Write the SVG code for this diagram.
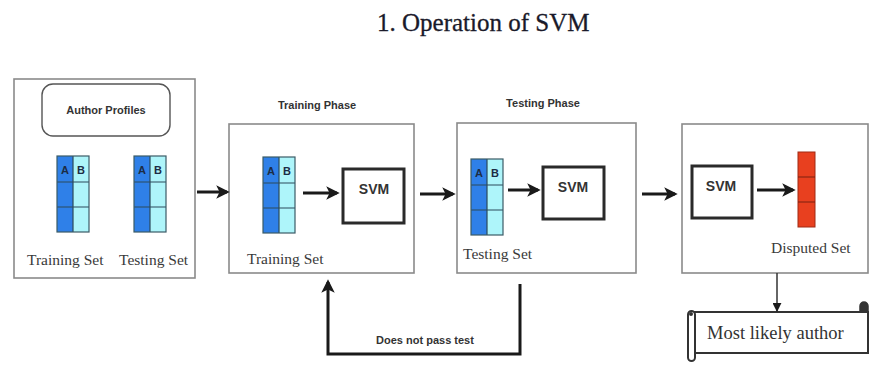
<svg xmlns="http://www.w3.org/2000/svg" width="874" height="367" viewBox="0 0 874 367">
<style>
.frame{fill:#fff;stroke:#8a8a8a;stroke-width:1.6}
.svm{fill:#fff;stroke:#2a2a2a;stroke-width:3}
.bold{font-family:"Liberation Sans",Arial,sans-serif;font-weight:bold;font-size:11px;fill:#333}
.lbl{font-family:"Liberation Serif","Times New Roman",serif;font-size:15.5px;fill:#3a3a3a}
.svmt{font-family:"Liberation Sans",Arial,sans-serif;font-weight:bold;font-size:14px;fill:#333;text-anchor:middle}
.ab{font-family:"Liberation Sans",Arial,sans-serif;font-weight:bold;font-size:11px;fill:#1c2c44;text-anchor:middle}
.conn{fill:none;stroke:#1a1a1a;stroke-width:3}
</style>
<defs>
<marker id="ah" viewBox="0 0 10 10" refX="8" refY="5" markerWidth="4.5" markerHeight="4.5" orient="auto" markerUnits="strokeWidth">
<path d="M0,0 L10,5 L0,10 L2.5,5 z" fill="#1a1a1a"/>
</marker>
<marker id="ahd" viewBox="0 0 10 10" refX="9" refY="5" markerWidth="6" markerHeight="6" orient="auto" markerUnits="strokeWidth">
<path d="M0,0 L10,5 L0,10 z" fill="#1a1a1a"/>
</marker>
<g id="tbl">
<rect x="0" y="0" width="16" height="76" fill="#2f80e8"/>
<rect x="16" y="0" width="16" height="76" fill="#aef5fa"/>
<path d="M0,26 H32 M0,51 H32 M16,0 V76" stroke="#2c4a5a" stroke-width="1.2"/>
<rect x="0" y="0" width="32" height="76" fill="none" stroke="#3b5b66" stroke-width="1.2"/>
<text x="8" y="18" class="ab">A</text>
<text x="24" y="18" class="ab">B</text>
</g>
</defs>
<rect width="874" height="367" fill="#fff"/>

<g id="title">
<text x="377" y="31" font-family="'Liberation Serif','Times New Roman',serif" font-size="25" fill="#1a1a2a" stroke="#1a1a2a" stroke-width="0.3">1. Operation of SVM</text>
</g>

<g id="profiles">
<rect x="14" y="79" width="181" height="199" class="frame"/>
<rect x="42" y="84" width="128" height="52" rx="11" fill="#fff" stroke="#555" stroke-width="1.4"/>
<text x="106" y="114" class="bold" text-anchor="middle">Author Profiles</text>
<use href="#tbl" x="57" y="156"/>
<use href="#tbl" x="134" y="156"/>
<text x="27" y="265" class="lbl">Training Set</text>
<text x="119" y="265" class="lbl">Testing Set</text>
</g>

<g id="training">
<text x="317" y="109" class="bold" text-anchor="middle">Training Phase</text>
<rect x="229" y="124" width="185" height="149" class="frame"/>
<use href="#tbl" x="263" y="157"/>
<rect x="343" y="169" width="61" height="54" class="svm"/>
<text x="374" y="194" class="svmt">SVM</text>
<text x="247" y="264" class="lbl">Training Set</text>
</g>

<g id="testing">
<text x="543" y="107" class="bold" text-anchor="middle">Testing Phase</text>
<rect x="457" y="123" width="179" height="150" class="frame"/>
<use href="#tbl" x="471" y="159"/>
<rect x="543" y="167" width="61" height="52" class="svm"/>
<text x="573" y="192" class="svmt">SVM</text>
<text x="463" y="259" class="lbl">Testing Set</text>
</g>

<g id="disputed">
<rect x="682" y="124" width="186" height="149" class="frame"/>
<rect x="692" y="166" width="60" height="52" class="svm"/>
<text x="721" y="191" class="svmt">SVM</text>
<rect x="798" y="152" width="17" height="75" fill="#e8401f" stroke="#a02a15" stroke-width="1"/>
<path d="M798,177 H815 M798,202 H815" stroke="#7a2010" stroke-width="1.2"/>
<text x="771" y="253" class="lbl">Disputed Set</text>
</g>

<g id="author">
<path d="M860,312 V306 A4,4 0 0 1 868,306 V312 Z" fill="#333" stroke="#333" stroke-width="1.5"/>
<rect x="693" y="312" width="175" height="41" fill="#fff" stroke="#333" stroke-width="2"/>
<rect x="688" y="311" width="7" height="50" rx="3.5" fill="#fff" stroke="#333" stroke-width="2"/>
<circle cx="691" cy="314" r="2" fill="#333"/>
<text x="707" y="339" font-family="'Liberation Serif','Times New Roman',serif" font-size="18.5" fill="#333">Most likely author</text>
</g>

<g id="connectors">
<line x1="197" y1="192" x2="227" y2="192" class="conn" marker-end="url(#ah)"/>
<line x1="303" y1="193" x2="337" y2="193" class="conn" marker-end="url(#ah)"/>
<line x1="420" y1="194" x2="453" y2="194" class="conn" marker-end="url(#ah)"/>
<line x1="508" y1="190" x2="538" y2="190" class="conn" marker-end="url(#ah)"/>
<line x1="642" y1="194" x2="675" y2="194" class="conn" marker-end="url(#ah)"/>
<line x1="757" y1="190" x2="793" y2="190" class="conn" marker-end="url(#ah)"/>
<line x1="777" y1="273" x2="777" y2="311" fill="none" stroke="#333" stroke-width="1.5" marker-end="url(#ahd)"/>
<path d="M520,284 V354 H328 V282" class="conn" marker-end="url(#ah)"/>
<text x="425" y="344" class="bold" text-anchor="middle">Does not pass test</text>
</g>
</svg>
